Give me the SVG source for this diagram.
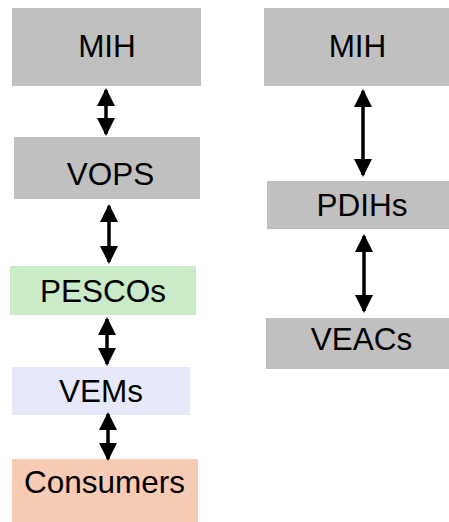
<svg xmlns="http://www.w3.org/2000/svg" width="449" height="522" viewBox="0 0 449 522">
  <style>
    .lbl { font-family: "Liberation Sans", Arial, sans-serif; font-size: 31.5px; fill: #000; text-anchor: middle; }
    .gray { fill: #c0c0c0; }
    .conn line { stroke: #000; stroke-width: 3.5; marker-start: url(#ah); marker-end: url(#ah); }
  </style>
  <defs>
    <marker id="ah" markerUnits="userSpaceOnUse" markerWidth="18" markerHeight="18" refX="16" refY="9" orient="auto-start-reverse">
      <path d="M0,0 L18,9 L0,18 Z" fill="#000"/>
    </marker>
  </defs>
  <rect width="449" height="522" fill="#fff"/>
  <g id="mih-left"><rect class="gray" x="12" y="8" width="189" height="78"/><text class="lbl" x="107" y="57">MIH</text></g>
  <g id="vops"><rect class="gray" x="14" y="137" width="186" height="62"/><text class="lbl" x="110.5" y="185">VOPS</text></g>
  <g id="pescos"><rect fill="#cbebc8" x="10" y="266" width="186" height="49"/><text class="lbl" x="103" y="302">PESCOs</text></g>
  <g id="vems"><rect fill="#e8e8fb" x="12" y="367" width="178" height="48"/><text class="lbl" x="101" y="402">VEMs</text></g>
  <g id="consumers"><rect fill="#f8cbb5" x="12" y="459" width="186" height="63"/><text class="lbl" x="104.5" y="493">Consumers</text></g>
  <g id="mih-right"><rect class="gray" x="264" y="8" width="185" height="78"/><text class="lbl" x="357.5" y="57">MIH</text></g>
  <g id="pdihs"><rect class="gray" x="267" y="181" width="182" height="48"/><text class="lbl" x="362" y="216">PDIHs</text></g>
  <g id="veacs"><rect class="gray" x="266" y="318" width="183" height="51"/><text class="lbl" x="361.5" y="350">VEACs</text></g>
  <g id="connectors" class="conn">
    <line x1="106" y1="90" x2="106" y2="134"/>
    <line x1="109" y1="206" x2="109" y2="262"/>
    <line x1="107" y1="319" x2="107" y2="364"/>
    <line x1="108" y1="414" x2="108" y2="459"/>
    <line x1="363" y1="91" x2="363" y2="175"/>
    <line x1="364" y1="236" x2="364" y2="311"/>
  </g>
</svg>
